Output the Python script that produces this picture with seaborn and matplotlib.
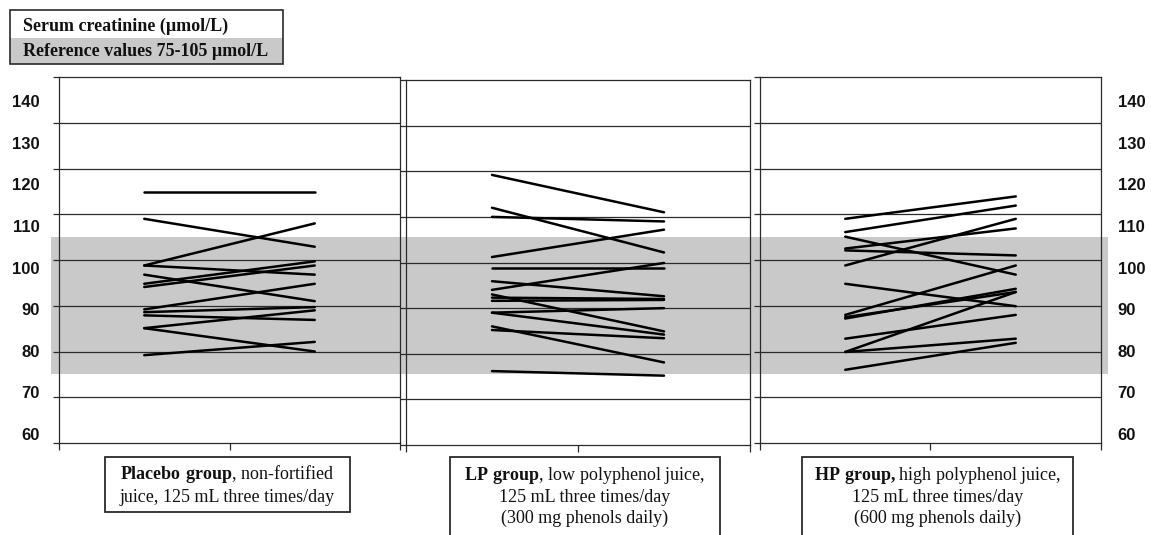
import numpy as np
import pandas as pd
import matplotlib
matplotlib.use("Agg")
import matplotlib.pyplot as plt
import matplotlib.transforms as mtransforms
from matplotlib.patches import Rectangle
import seaborn as sns

# ---------------- data (µmol/L, before -> after) ----------------
placebo_before = [114.8, 109.0, 98.8, 98.8, 96.8, 94.8, 94.1, 89.2, 88.6, 87.9, 85.1, 85.1, 79.2]
placebo_after = [114.8, 102.9, 108.0, 96.8, 91.0, 99.7, 98.8, 94.8, 89.7, 86.9, 89.0, 80.0, 82.1]

lp_before = [119.2, 112.0, 110.0, 101.2, 98.9, 95.9, 94.0, 93.0, 92.3, 91.6, 89.0, 89.0, 86.0, 85.2, 76.2]
lp_after = [111.0, 102.2, 109.0, 107.2, 98.9, 92.6, 99.9, 84.9, 92.0, 91.8, 90.0, 84.2, 78.1, 83.4, 75.2]

hp_before = [109.0, 106.1, 105.1, 102.5, 102.1, 98.8, 94.8, 88.0, 87.2, 87.5, 82.8, 79.9, 79.9, 76.0]
hp_after = [113.9, 111.9, 96.8, 106.9, 101.0, 109.0, 89.9, 98.8, 93.7, 93.0, 88.0, 93.0, 82.8, 81.9]

y_ticks = [60, 70, 80, 90, 100, 110, 120, 130, 140]
tick_labels = [str(t) for t in y_ticks]
ref_low, ref_high = 75, 105

legend_title = "Serum creatinine (\u00b5mol/L)"
legend_ref = "Reference values 75-105 \u00b5mol/L"

captions = [
    [r"$\mathbf{Placebo\ group}$, non-fortified", "juice, 125 mL three times/day"],
    [r"$\mathbf{LP\ group}$, low polyphenol juice,", "125 mL three times/day", "(300 mg phenols daily)"],
    [r"$\mathbf{HP\ group,}$high polyphenol juice,", "125 mL three times/day", "(600 mg phenols daily)"],
]

groups = [(placebo_before, placebo_after), (lp_before, lp_after), (hp_before, hp_after)]

# ---------------- style ----------------
sns.set_theme(style="white")
plt.rcParams['font.family'] = ['Liberation Sans', 'DejaVu Sans']
plt.rcParams['mathtext.fontset'] = 'custom'
plt.rcParams['mathtext.rm'] = 'Liberation Serif'
plt.rcParams['mathtext.bf'] = 'Liberation Serif:bold'

W, H = 1151, 535
fig = plt.figure(figsize=(W / 100, H / 100), dpi=100)
fig.patch.set_facecolor('white')


def fpos(x0, y0, x1, y1):
    return [x0 / W, 1 - y1 / H, (x1 - x0) / W, (y1 - y0) / H]


panel_px = [(59, 77, 400, 443), (406, 80, 750, 445), (760, 77, 1101, 443)]
dark = '#2a2a2a'
band_color = '#c9c9c9'
axes = []
for (before, after), px in zip(groups, panel_px):
    ax = fig.add_axes(fpos(*px))
    ax.set_facecolor('none')
    n = len(before)
    df = pd.DataFrame({
        'subject': list(range(n)) * 2,
        'time': [0] * n + [1] * n,
        'value': list(before) + list(after),
    })
    for g in y_ticks[1:-1]:
        ax.axhline(g, color=dark, lw=0.9, zorder=1)
    sns.lineplot(data=df, x='time', y='value', units='subject', estimator=None,
                 color='black', lw=1.8, ax=ax, legend=False, zorder=3)
    ax.set_xlim(-0.5, 1.5)
    ax.set_ylim(60, 140)
    ax.set_yticks(y_ticks)
    ax.set_yticklabels([])
    ax.set_xticks([-0.5, 0.5, 1.5])
    ax.set_xticklabels([])
    ax.set_xlabel('')
    ax.set_ylabel('')
    for s in ax.spines.values():
        s.set_visible(True)
        s.set_color(dark)
        s.set_linewidth(0.9)
    ax.tick_params(axis='x', direction='out', length=5, width=0.9, color=dark, bottom=True)
    ax.tick_params(axis='y', direction='out', length=4, width=0.9, color=dark, left=True)
    axes.append(ax)

# reference band across the panels
band = Rectangle((51 / W, ref_low), (1108 - 51) / W, ref_high - ref_low,
                 transform=mtransforms.blended_transform_factory(fig.transFigure, axes[0].transData),
                 facecolor=band_color, edgecolor='none', zorder=-1)
fig.add_artist(band)

# tick label columns (left and right)
lab_lo = 60 - (443 - 434) * 80 / 333
lab_hi = 140 + (101 - 77) * 80 / 333
axl = fig.add_axes(fpos(*panel_px[0]), frameon=False)
axl.set_ylim(lab_lo, lab_hi)
axl.set_yticks(y_ticks)
axl.set_yticklabels(tick_labels, fontsize=12, fontweight='bold', color='#111111')
axl.set_xticks([])
axl.tick_params(axis='y', length=0, pad=14)
axl.patch.set_visible(False)

axr = fig.add_axes(fpos(*panel_px[2]), frameon=False)
axr.set_ylim(lab_lo, lab_hi)
axr.yaxis.tick_right()
axr.set_yticks(y_ticks)
axr.set_yticklabels(tick_labels, fontsize=12, fontweight='bold', color='#111111')
axr.set_xticks([])
axr.tick_params(axis='y', length=0, pad=12, right=True, left=False)
axr.patch.set_visible(False)

# legend box (top-left)
x0, y0, x1, y1 = 10, 10, 283, 64
fig.add_artist(Rectangle((x0 / W, 1 - y1 / H), (x1 - x0) / W, (y1 - 38) / H,
                         transform=fig.transFigure, facecolor=band_color, edgecolor='none', zorder=1))
fig.add_artist(Rectangle((x0 / W, 1 - y1 / H), (x1 - x0) / W, (y1 - y0) / H,
                         transform=fig.transFigure, facecolor='none', edgecolor=dark, lw=1.2, zorder=2))
fig.text(23 / W, 1 - 26 / H, legend_title, fontsize=13, fontweight='bold',
         family=['Liberation Serif', 'DejaVu Serif'], va='center', ha='left', color='#111111')
fig.text(23 / W, 1 - 51 / H, legend_ref, fontsize=13, fontweight='bold',
         family=['Liberation Serif', 'DejaVu Serif'], va='center', ha='left', color='#111111')

# caption boxes below panels
box_px = [(105, 457, 350, 512), (450, 457, 720, 545), (802, 457, 1073, 545)]
line_y = [[474, 497], [476, 497, 518], [476, 497, 518]]
for (bx0, by0, bx1, by1), lines, ys in zip(box_px, captions, line_y):
    fig.add_artist(Rectangle((bx0 / W, 1 - by1 / H), (bx1 - bx0) / W, (by1 - by0) / H,
                             transform=fig.transFigure, facecolor='white', edgecolor=dark,
                             lw=1.3, zorder=2, clip_on=False))
    cx = (bx0 + bx1) / 2
    for txt, yy in zip(lines, ys):
        fig.text(cx / W, 1 - yy / H, txt, fontsize=13, family=['Liberation Serif', 'DejaVu Serif'],
                 ha='center', va='center', color='#111111', zorder=3)

fig.savefig('out.png', dpi=100)
